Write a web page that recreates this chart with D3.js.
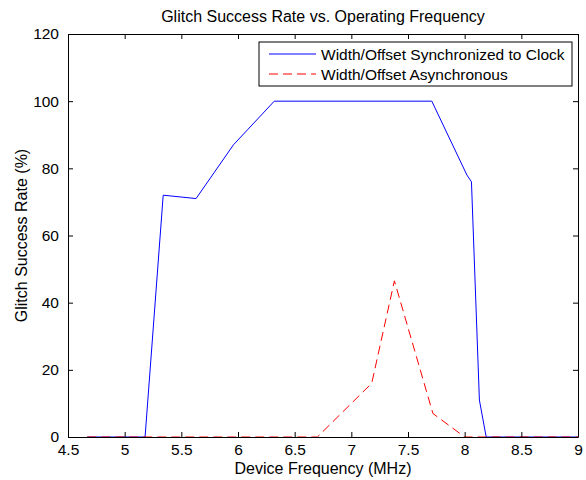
<!DOCTYPE html>
<html>
<head>
<meta charset="utf-8">
<script src="https://cdn.jsdelivr.net/npm/d3@7"></script>
<style>
  body { margin: 0; background: #fff; }
  svg text { font-family: "Liberation Sans", Arial, sans-serif; fill: #000; }
</style>
</head>
<body>
<svg id="chart"></svg>
<script>
// series (MHz, %)
const syncFreq  = [4.67, 5.18, 5.34, 5.63, 5.96, 6.32, 7.71, 8.02, 8.06, 8.13, 8.19, 9.0];
const syncRate  = [0,    0,    72,   71,   87,   100,  100,  78,   76,   11,   0,    0];
const asyncFreq = [4.67, 6.70, 7.18, 7.38, 7.72, 8.00, 9.0];
const asyncRate = [0,    0,    16,   46.5, 7,    0,    0];

const xTicks = [4.5, 5, 5.5, 6, 6.5, 7, 7.5, 8, 8.5, 9];
const yTicks = [0, 20, 40, 60, 80, 100, 120];
const seriesNames = ['Width/Offset Synchronized to Clock', 'Width/Offset Asynchronous'];

const W = 586, H = 480;
const margin = {top: 34, right: 8, bottom: 43, left: 68};
const width = W - margin.left - margin.right;
const height = H - margin.top - margin.bottom;
const fs = '15.5px';

const svg = d3.select('#chart').attr('width', W).attr('height', H);
const g = svg.append('g').attr('transform', `translate(${margin.left},${margin.top})`);

const x = d3.scaleLinear().domain([4.5, 9]).range([0, width]);
const y = d3.scaleLinear().domain([0, 120]).range([height, 0]);

const line = d3.line().x(d => x(d[0])).y(d => y(d[1]));

// data lines
g.append('path')
    .datum(d3.zip(syncFreq, syncRate))
    .attr('d', line)
    .attr('fill', 'none')
    .attr('stroke', '#0000ff')
    .attr('stroke-width', 1);

g.append('path')
    .datum(d3.zip(asyncFreq, asyncRate))
    .attr('d', line)
    .attr('fill', 'none')
    .attr('stroke', '#ff0000')
    .attr('stroke-width', 1)
    .attr('stroke-dasharray', '9,5');

// axes, ticks pointing inward like MATLAB
const fmt = d => String(d);
const xAxisB = d3.axisBottom(x).tickValues(xTicks).tickFormat(fmt).tickSize(-5).tickSizeOuter(0).tickPadding(7);
const xAxisT = d3.axisTop(x).tickValues(xTicks).tickFormat('').tickSize(-5).tickSizeOuter(0);
const yAxisL = d3.axisLeft(y).tickValues(yTicks).tickFormat(fmt).tickSize(-5).tickSizeOuter(0).tickPadding(9);
const yAxisR = d3.axisRight(y).tickValues(yTicks).tickFormat('').tickSize(-5).tickSizeOuter(0);

g.append('g').attr('transform', `translate(0,${height})`).call(xAxisB);
g.append('g').call(xAxisT);
g.append('g').call(yAxisL);
g.append('g').attr('transform', `translate(${width},0)`).call(yAxisR);

g.selectAll('.domain').attr('stroke', '#000');
g.selectAll('.tick line').attr('stroke', '#000');
g.selectAll('.tick text').style('font-size', fs);

// titles
svg.append('text')
    .attr('x', margin.left + width / 2)
    .attr('y', 22)
    .attr('text-anchor', 'middle')
    .style('font-size', '16px')
    .text('Glitch Success Rate vs. Operating Frequency');

svg.append('text')
    .attr('x', margin.left + width / 2)
    .attr('y', 474)
    .attr('text-anchor', 'middle')
    .style('font-size', '16px')
    .text('Device Frequency (MHz)');

svg.append('text')
    .attr('transform', `translate(27,${margin.top + height / 2}) rotate(-90)`)
    .attr('text-anchor', 'middle')
    .style('font-size', '16px')
    .text('Glitch Success Rate (%)');

// legend
const legend = svg.append('g').attr('transform', 'translate(259,42)');
legend.append('rect')
    .attr('width', 313).attr('height', 44)
    .attr('fill', '#fff').attr('stroke', '#000').attr('stroke-width', 1);

const styles = [
  {stroke: '#0000ff', dash: null},
  {stroke: '#ff0000', dash: '9,5'}
];
seriesNames.forEach((name, i) => {
  const yy = 12 + i * 20;
  legend.append('line')
      .attr('x1', 10).attr('x2', 57).attr('y1', yy).attr('y2', yy)
      .attr('stroke', styles[i].stroke)
      .attr('stroke-dasharray', styles[i].dash);
  legend.append('text')
      .attr('x', 62).attr('y', yy + 6)
      .style('font-size', '15.5px')
      .text(name);
});
</script>
</body>
</html>
